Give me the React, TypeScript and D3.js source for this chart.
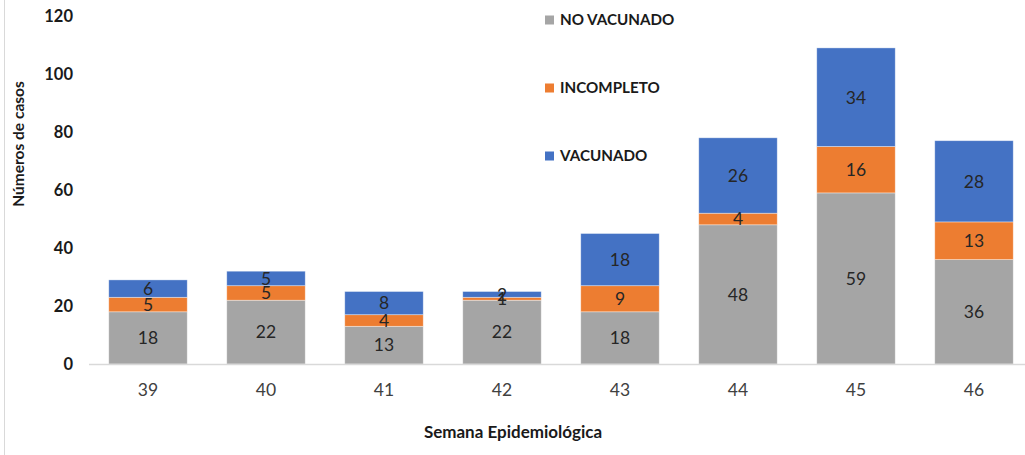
import React, { useRef, useEffect } from 'react';
import * as d3 from 'd3';

const weeks = ['39', '40', '41', '42', '43', '44', '45', '46'];
const noVacunado = [18, 22, 13, 22, 18, 48, 59, 36];
const incompleto = [5, 5, 4, 1, 9, 4, 16, 13];
const vacunado = [6, 5, 8, 2, 18, 26, 34, 28];
const yTicks = [0, 20, 40, 60, 80, 100, 120];

const seriesNames = ['NO VACUNADO', 'INCOMPLETO', 'VACUNADO'];
const seriesColors = ['#A5A5A5', '#ED7D31', '#4472C4'];

const App: React.FC = () => {
  const svgRef = useRef<SVGSVGElement | null>(null);

  useEffect(() => {
    const svg = d3.select(svgRef.current);
    svg.selectAll('*').remove();

    const font = "Lato, 'Open Sans', sans-serif";
    const rows = weeks.map((w, i) => ({
      week: w,
      'NO VACUNADO': noVacunado[i],
      INCOMPLETO: incompleto[i],
      VACUNADO: vacunado[i],
    }));

    const x = d3.scaleBand().domain(weeks).range([89, 1033]).paddingInner(0.335).paddingOuter(0.1675);
    const y = d3.scaleLinear().domain([0, 120]).range([364, 16]);

    // frame line at left
    svg.append('line')
      .attr('x1', 4.5).attr('x2', 4.5).attr('y1', 0).attr('y2', 455)
      .attr('stroke', '#d9d9d9').attr('stroke-width', 1);

    const stack = d3.stack<any>().keys(seriesNames)(rows);

    const layers = svg.append('g').selectAll('g')
      .data(stack)
      .enter()
      .append('g')
      .attr('fill', (_d, i) => seriesColors[i]);

    layers.selectAll('rect')
      .data(d => d)
      .enter()
      .append('rect')
      .attr('x', d => x(d.data.week)!)
      .attr('y', d => y(d[1]))
      .attr('width', x.bandwidth())
      .attr('height', d => y(d[0]) - y(d[1]))
      .attr('stroke', '#ffffff')
      .attr('stroke-opacity', 0.5)
      .attr('stroke-width', 0.75);

    // value labels
    stack.forEach(layer => {
      svg.append('g').selectAll('text')
        .data(layer)
        .enter()
        .append('text')
        .attr('x', d => x(d.data.week)! + x.bandwidth() / 2)
        .attr('y', d => (y(d[0]) + y(d[1])) / 2)
        .attr('dy', '0.36em')
        .attr('text-anchor', 'middle')
        .attr('font-family', font)
        .attr('font-size', 17.5)
        .attr('fill', '#262626')
        .text(d => String(d[1] - d[0]));
    });

    // x axis line
    svg.append('line')
      .attr('x1', 89).attr('x2', 1025).attr('y1', 364.5).attr('y2', 364.5)
      .attr('stroke', '#d9d9d9').attr('stroke-width', 1.5);

    // x tick labels
    svg.append('g').selectAll('text')
      .data(weeks)
      .enter()
      .append('text')
      .attr('x', d => x(d)! + x.bandwidth() / 2)
      .attr('y', 390)
      .attr('dy', '0.36em')
      .attr('text-anchor', 'middle')
      .attr('font-family', font)
      .attr('font-size', 17.5)
      .attr('fill', '#404040')
      .text(d => d);

    // y tick labels
    svg.append('g').selectAll('text')
      .data(yTicks)
      .enter()
      .append('text')
      .attr('x', 73)
      .attr('y', d => y(d))
      .attr('dy', '0.36em')
      .attr('text-anchor', 'end')
      .attr('font-family', font)
      .attr('font-size', 16.5)
      .attr('font-weight', 'bold')
      .attr('fill', '#1a1a1a')
      .text(d => String(d));

    // axis titles
    svg.append('text')
      .attr('transform', 'translate(18,144) rotate(-90)')
      .attr('dy', '0.36em')
      .attr('text-anchor', 'middle')
      .attr('font-family', font)
      .attr('font-size', 15.5)
      .attr('font-weight', 'bold')
      .attr('fill', '#1a1a1a')
      .text('Números de casos');

    svg.append('text')
      .attr('x', 513)
      .attr('y', 432)
      .attr('dy', '0.36em')
      .attr('text-anchor', 'middle')
      .attr('font-family', font)
      .attr('font-size', 17)
      .attr('font-weight', 'bold')
      .attr('fill', '#1a1a1a')
      .text('Semana Epidemiológica');

    // legend
    const legendY = [20, 88, 156];
    const legend = svg.append('g').selectAll('g')
      .data(seriesNames)
      .enter()
      .append('g')
      .attr('transform', (_d, i) => `translate(545,${legendY[i]})`);

    legend.append('rect')
      .attr('x', 0).attr('y', -4.5)
      .attr('width', 9).attr('height', 9)
      .attr('fill', (_d, i) => seriesColors[i]);

    legend.append('text')
      .attr('x', 15)
      .attr('y', 0)
      .attr('dy', '0.36em')
      .attr('font-family', font)
      .attr('font-size', 15.2)
      .attr('font-weight', 'bold')
      .attr('fill', '#1a1a1a')
      .text(d => d);
  }, []);

  return (
    <svg
      ref={svgRef}
      width={1025}
      height={455}
      style={{ position: 'absolute', left: 0, top: 0, background: '#fff', overflow: 'hidden' }}
    />
  );
};

export default App;
